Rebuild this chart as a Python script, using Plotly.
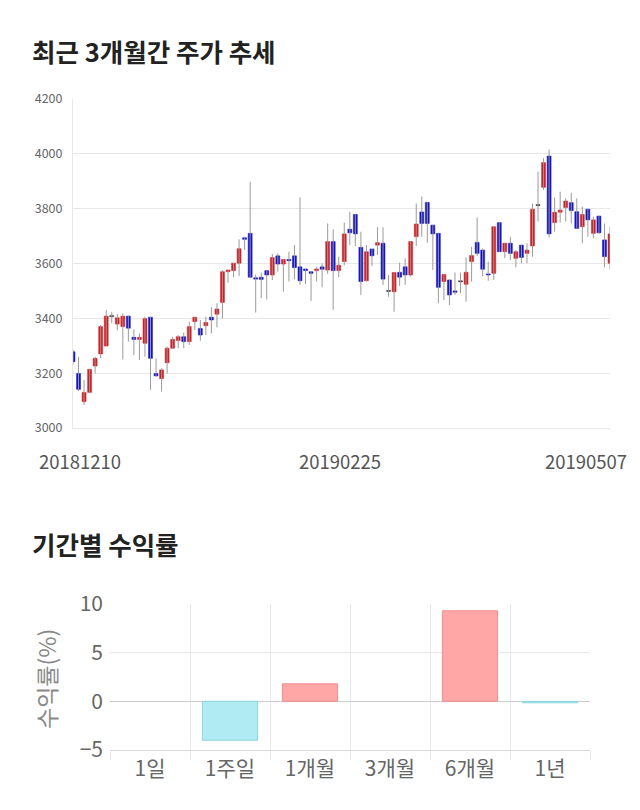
import plotly.graph_objects as go

# ---------------- data ----------------
dec = "10 11 12 13 14 17 18 19 20 21 24 26 27 28".split()
jan = "02 03 04 07 08 09 10 11 14 15 16 17 18 21 22 23 24 25 28 29 30 31".split()
feb = "01 07 08 11 12 13 14 15 18 19 20 21 22 25 26 27 28".split()
mar = "04 05 06 07 08 11 12 13 14 15 18 19 20 21 22 25 26 27 28 29".split()
apr = "01 02 03 04 05 08 09 10 11 12 15 16 17 18 19 22 23 24 25 26 29 30".split()
may = "02 03 07".split()
dates = (["201812" + d for d in dec] + ["201901" + d for d in jan] + ["201902" + d for d in feb]
         + ["201903" + d for d in mar] + ["201904" + d for d in apr] + ["201905" + d for d in may])

opens = [3278, 3199, 3096, 3130, 3226, 3270, 3299, 3408, 3379, 3370,
         3408, 3331, 3323, 3309, 3404, 3199, 3180, 3238, 3291, 3319,
         3333, 3315, 3388, 3363, 3373, 3404, 3415, 3458, 3570, 3574,
         3601, 3694, 3710, 3548, 3550, 3574, 3558, 3628, 3598, 3615,
         3628, 3588, 3580, 3570, 3574, 3588, 3576, 3680, 3574, 3607,
         3725, 3779, 3659, 3537, 3653, 3667, 3674, 3500, 3497, 3568,
         3588, 3558, 3698, 3788, 3823, 3740, 3710, 3534, 3540, 3500,
         3535, 3524, 3607, 3677, 3649, 3562, 3564, 3749, 3643, 3674,
         3619, 3667, 3637, 3664, 3813, 3878, 3992, 3749, 3787, 3804,
         3822, 3789, 3734, 3798, 3710, 3773, 3686, 3601]
highs = [3285, 3260, 3175, 3216, 3260, 3376, 3430, 3424, 3416, 3418,
         3410, 3360, 3345, 3406, 3406, 3254, 3218, 3297, 3333, 3339,
         3348, 3388, 3406, 3394, 3406, 3440, 3455, 3576, 3579, 3603,
         3688, 3694, 3898, 3560, 3567, 3574, 3635, 3637, 3615, 3643,
         3667, 3841, 3580, 3570, 3588, 3601, 3746, 3725, 3625, 3749,
         3789, 3779, 3716, 3667, 3653, 3732, 3732, 3558, 3567, 3603,
         3619, 3680, 3819, 3844, 3823, 3740, 3710, 3560, 3540, 3567,
         3567, 3622, 3661, 3768, 3655, 3607, 3734, 3749, 3674, 3698,
         3649, 3667, 3674, 3819, 3935, 3984, 4016, 3841, 3862, 3838,
         3858, 3838, 3807, 3798, 3771, 3773, 3746, 3734]
lows = [3232, 3135, 3084, 3127, 3199, 3254, 3297, 3382, 3357, 3250,
        3315, 3266, 3248, 3260, 3139, 3187, 3133, 3199, 3288, 3291,
        3291, 3303, 3357, 3318, 3339, 3345, 3367, 3400, 3530, 3550,
        3554, 3649, 3550, 3421, 3473, 3469, 3540, 3570, 3497, 3534,
        3542, 3522, 3525, 3464, 3534, 3513, 3562, 3430, 3550, 3594,
        3667, 3664, 3485, 3534, 3591, 3631, 3522, 3479, 3424, 3518,
        3522, 3552, 3664, 3698, 3676, 3576, 3455, 3467, 3449, 3485,
        3491, 3461, 3534, 3627, 3554, 3537, 3540, 3643, 3619, 3613,
        3586, 3601, 3601, 3625, 3753, 3868, 3695, 3716, 3749, 3753,
        3746, 3728, 3674, 3698, 3692, 3708, 3586, 3579]
closes = [3242, 3141, 3130, 3214, 3254, 3370, 3408, 3408, 3402, 3408,
          3364, 3323, 3331, 3399, 3254, 3190, 3212, 3291, 3323, 3333,
          3315, 3370, 3404, 3339, 3385, 3394, 3434, 3570, 3576, 3601,
          3654, 3688, 3550, 3543, 3542, 3558, 3622, 3598, 3615, 3610,
          3585, 3537, 3574, 3564, 3580, 3579, 3680, 3574, 3594, 3708,
          3712, 3708, 3534, 3643, 3628, 3676, 3543, 3500, 3567, 3550,
          3558, 3680, 3744, 3746, 3746, 3708, 3513, 3560, 3485, 3495,
          3535, 3568, 3629, 3637, 3579, 3558, 3734, 3643, 3674, 3637,
          3643, 3622, 3649, 3798, 3813, 3968, 3708, 3787, 3795, 3828,
          3793, 3728, 3779, 3759, 3759, 3712, 3625, 3708]
date_labels = ["20181210", "20190225", "20190507"]

periods = ["1일", "1주일", "1개월", "3개월", "6개월", "1년"]
returns = [0.0, -4.0, 1.8, 0.0, 9.3, -0.15]

# ---------------- styles ----------------
W, H = 640, 810
RED, BLUE, DOJI = "#d21f24", "#1414c4", "#333333"
GRID = "#e8e8e8"
FONT = "Noto Sans CJK KR"

idx = list(range(len(dates)))

# wicks
wx, wy = [], []
for i, h, l in zip(idx, highs, lows):
    wx += [i, i, None]
    wy += [l, h, None]

# bodies
base, height, colors = [], [], []
for o, c in zip(opens, closes):
    if c > o:
        colors.append(RED); base.append(o); height.append(c - o)
    elif c < o:
        colors.append(BLUE); base.append(c); height.append(o - c)
    else:
        colors.append(DOJI); base.append(o - 2); height.append(4)

fig = go.Figure()
fig.add_trace(go.Scatter(x=wx, y=wy, mode="lines", line=dict(color="#9a9a9a", width=1),
                         hoverinfo="skip", showlegend=False, xaxis="x", yaxis="y"))
fig.add_trace(go.Bar(x=idx, y=height, base=base, width=0.72,
                     marker=dict(color=colors, line=dict(color=colors, width=0.5)),
                     showlegend=False, xaxis="x", yaxis="y",
                     customdata=dates))

bar_colors = ["#ffa6a6" if v > 0 else "#b0eaf2" for v in returns]
bar_lines = ["#f08f8f" if v > 0 else ("#8fd3de" if v < 0 else "rgba(0,0,0,0)") for v in returns]
fig.add_trace(go.Bar(x=periods, y=returns, marker=dict(color=bar_colors, line=dict(color=bar_lines, width=1)),
                     showlegend=False, xaxis="x2", yaxis="y2"))

def px_x(p):
    return p / W

def px_y(p):
    return 1 - p / H

fig.update_layout(
    template="none",
    width=W, height=H, margin=dict(l=0, r=0, t=0, b=0, pad=0, autoexpand=False),
    paper_bgcolor="white", plot_bgcolor="white",
    font=dict(family=FONT, color="#666"),
    bargap=0.31,
    xaxis=dict(domain=[px_x(73), px_x(610)], range=[0, len(dates) - 1], showgrid=False,
               showticklabels=False, zeroline=False, showline=True, linecolor=GRID,
               anchor="y", fixedrange=True, automargin=False, ticks=""),
    yaxis=dict(domain=[px_y(428), px_y(99)], range=[3000, 4200], dtick=200,
               showgrid=True, gridcolor=GRID, zeroline=False, showline=True, linecolor=GRID,
               tickfont=dict(size=12.5, color="#666"), ticks="", ticklabelstandoff=7,
               anchor="x", automargin=False),
    xaxis2=dict(domain=[px_x(110), px_x(590)], type="category", tickson="boundaries",
                showgrid=True, gridcolor=GRID, ticks="outside", ticklen=9, tickcolor=GRID,
                tickfont=dict(size=21, color="#666"), showline=True, linecolor="#d8d8d8",
                anchor="y2", automargin=False),
    yaxis2=dict(domain=[px_y(750), px_y(604)], range=[-5, 10], tickvals=[-5, 0, 5, 10],
                showgrid=True, gridcolor=GRID, zeroline=True, zerolinecolor="#cccccc",
                zerolinewidth=1, tickfont=dict(size=21, color="#666"), ticks="",
                ticklabelstandoff=6, anchor="x2", automargin=False),
)

ann = []
ann.append(dict(text="최근 3개월간 주가 추세", x=px_x(30), y=px_y(50), xref="paper", yref="paper",
                xanchor="left", yanchor="middle", showarrow=False,
                font=dict(size=25.5, color="#222", family=FONT, weight=700)))
ann.append(dict(text="기간별 수익률", x=px_x(30), y=px_y(543), xref="paper", yref="paper",
                xanchor="left", yanchor="middle", showarrow=False,
                font=dict(size=25.5, color="#222", family=FONT, weight=700)))
ann.append(dict(text="수익률(%)", x=px_x(46), y=px_y(679), xref="paper", yref="paper",
                textangle=-90, xanchor="center", yanchor="middle", showarrow=False,
                font=dict(size=23, color="#888", family=FONT)))
# date tick labels
label_cfg = [(0, "center", 7), (dates.index("20190225"), "center", -4), (len(dates) - 1, "right", 19)]
for lab, (pos, anchor, shift) in zip(date_labels, label_cfg):
    ann.append(dict(text=lab, x=pos, y=px_y(461), xref="x", yref="paper", xanchor=anchor,
                    yanchor="middle", xshift=shift, showarrow=False,
                    font=dict(size=18.5, color="#555", family=FONT)))
fig.update_layout(annotations=ann)

fig.write_html("out.html")
